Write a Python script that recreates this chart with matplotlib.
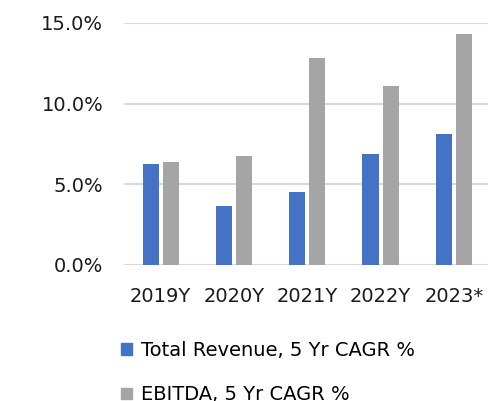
import matplotlib
matplotlib.use("Agg")
import matplotlib.pyplot as plt
import numpy as np
from matplotlib.ticker import FuncFormatter
from matplotlib.patches import Patch

categories = ["2019Y", "2020Y", "2021Y", "2022Y", "2023*"]
revenue_cagr = [6.25, 3.65, 4.5, 6.88, 8.12]
ebitda_cagr = [6.38, 6.75, 12.84, 11.1, 14.33]
series_names = ["Total Revenue, 5 Yr CAGR %", "EBITDA, 5 Yr CAGR %"]
colors = ["#4472C4", "#A5A5A5"]

plt.rcParams['font.family'] = ['DejaVu Sans']

fig = plt.figure(figsize=(4.88, 4.01), dpi=100)
W, H = 488, 401
left_px, right_px, top_px, bottom_px = 124, 490.5, 23, 265
ax = fig.add_axes([left_px / W, 1 - bottom_px / H, (right_px - left_px) / W, (bottom_px - top_px) / H])

x = np.arange(len(categories))
bw = 0.22
off = 0.137
ax.bar(x - off, revenue_cagr, bw, color=colors[0], zorder=3)
ax.bar(x + off, ebitda_cagr, bw, color=colors[1], zorder=3)

ax.set_xlim(-0.5, len(categories) - 0.5)
ax.set_ylim(0, 15)
ax.set_yticks([0, 5, 10, 15])
ax.yaxis.set_major_formatter(FuncFormatter(lambda v, p: f"{v:.1f}%"))
ax.set_xticks(x)
ax.set_xticklabels(categories)
ax.grid(axis='y', color='#D9D9D9', linewidth=1.5, zorder=0)
for s in ax.spines.values():
    s.set_visible(False)
ax.tick_params(axis='both', length=0, labelsize=14, colors='#1a1a1a')
ax.tick_params(axis='y', pad=15)
ax.tick_params(axis='x', pad=16)

handles = [Patch(color=c) for c in colors]
fig.legend(handles, series_names, loc='upper left', bbox_to_anchor=(121 / W, 1 - 341 / H),
           frameon=False, fontsize=14, handlelength=0.55, handleheight=0.55,
           handletextpad=0.5, labelspacing=1.3, borderpad=0, borderaxespad=0)

fig.savefig("out.png", dpi=100)
